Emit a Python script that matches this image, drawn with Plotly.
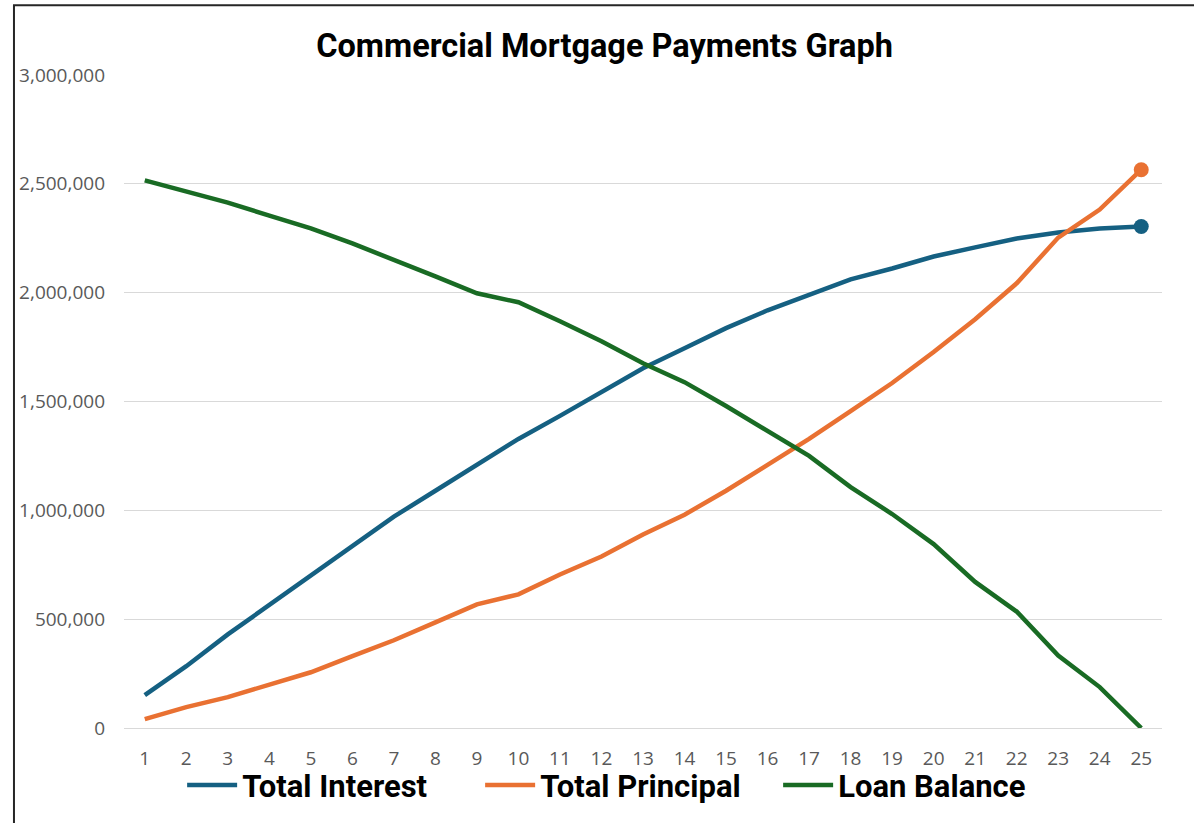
import plotly.graph_objects as go

years = list(range(1, 26))

total_interest = [151000, 284000, 430000, 565000, 698000, 833000, 971000, 1090000, 1212000,
                  1328000, 1434000, 1543000, 1653000, 1745000, 1837000, 1919000, 1992000,
                  2061000, 2111000, 2166000, 2208000, 2249000, 2276000, 2295000, 2304000]

total_principal = [41000, 96000, 142000, 197000, 256000, 330000, 403000, 485000, 568000,
                   614000, 705000, 788000, 889000, 980000, 1090000, 1209000, 1328000,
                   1456000, 1585000, 1727000, 1878000, 2043000, 2253000, 2382000, 2565000]

loan_balance = [2516000, 2464000, 2414000, 2354000, 2295000, 2226000, 2153000, 2075000, 1997000,
                1956000, 1869000, 1777000, 1676000, 1589000, 1479000, 1365000, 1250000,
                1107000, 983000, 845000, 671000, 535000, 333000, 188000, 0]

series = [
    ("Total Interest", total_interest, "#156082", True),
    ("Total Principal", total_principal, "#E97132", True),
    ("Loan Balance", loan_balance, "#196B24", False),
]

fig = go.Figure()
for name, vals, color, end_marker in series:
    sizes = [0] * (len(vals) - 1) + [15 if end_marker else 0]
    fig.add_trace(go.Scatter(
        x=years, y=vals, name=name, mode="lines+markers",
        line=dict(color=color, width=4.5),
        marker=dict(color=color, size=sizes, opacity=1, line=dict(width=0)),
    ))

fig.update_layout(
    width=1194, height=823,
    margin=dict(l=124, r=32, t=75, b=94),
    paper_bgcolor="white", plot_bgcolor="white",
    title=dict(text="<b>Commercial Mortgage Payments Graph</b>",
               x=0.463, xanchor="center", xref="paper", y=0.944, yanchor="middle",
               font=dict(family="Roboto", size=32.5, color="black")),
    legend=dict(orientation="h", x=0.056, xanchor="left", y=-0.086, yanchor="middle",
                bgcolor="rgba(0,0,0,0)",
                font=dict(family="Roboto", size=31, color="black", weight="bold"),
                itemwidth=50, tracegroupgap=0, entrywidth=233, entrywidthmode="pixels"),
    showlegend=True,
)
fig.update_xaxes(range=[0.5, 25.5], tickmode="linear", tick0=1, dtick=1,
                 showgrid=False, showline=False, zeroline=False,
                 ticks="", ticklabelstandoff=17,
                 tickfont=dict(family="Open Sans", size=19, color="#595959"))
fig.update_yaxes(range=[0, 3000000], tickmode="linear", tick0=0, dtick=500000,
                 tickformat=",", showgrid=True, gridcolor="#d9d9d9", gridwidth=1.3,
                 zeroline=True, zerolinecolor="#d9d9d9", zerolinewidth=1.3,
                 showline=False, ticks="", ticklabelstandoff=18,
                 tickfont=dict(family="Open Sans", size=19, color="#595959"))

fig.add_shape(type="rect", xref="paper", yref="paper",
              x0=-0.106, x1=1.2, y0=-0.3, y1=1.107,
              line=dict(color="#262626", width=2), fillcolor="rgba(0,0,0,0)", layer="above")

fig.write_html("out.html", config={"displayModeBar": False},
               post_script="document.body.style.margin='0';document.body.style.overflow='hidden';")
